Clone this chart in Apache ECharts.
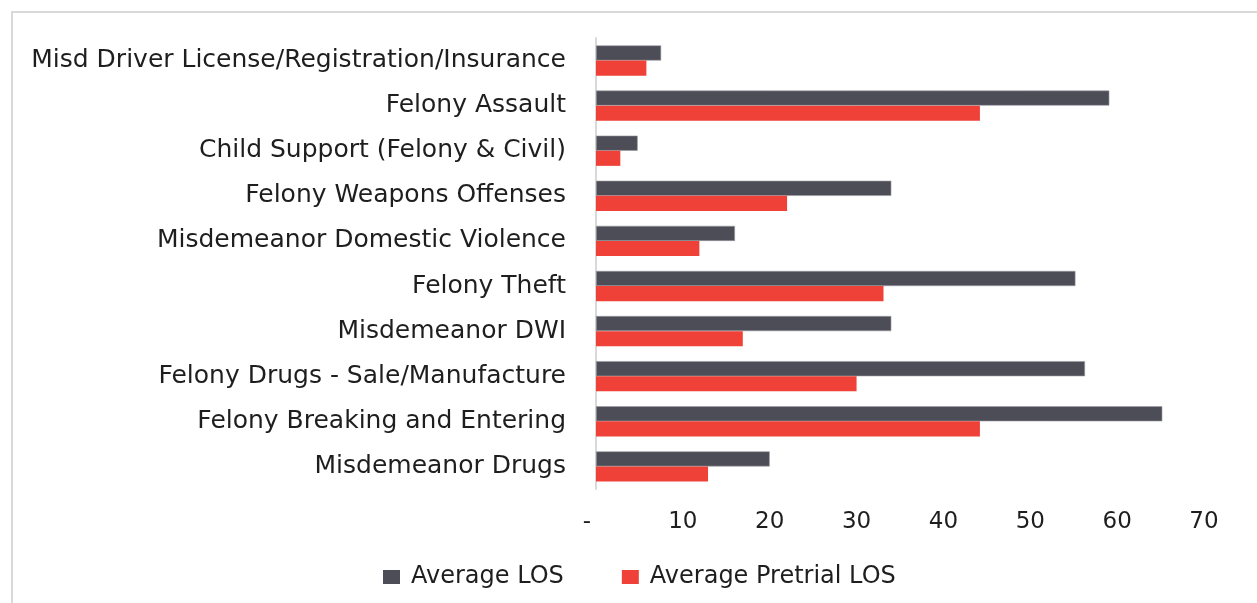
<!DOCTYPE html>
<html>
<head>
<meta charset="utf-8">
<script src="https://cdn.jsdelivr.net/npm/echarts@6/dist/echarts.min.js"></script>
<style>
  html, body { margin: 0; padding: 0; background: #fff; }
  #chart { width: 1257px; height: 603px; }
</style>
</head>
<body>
<div id="chart"></div>
<script>
// categories, top to bottom
const categories = [
  'Misd Driver License/Registration/Insurance',
  'Felony Assault',
  'Child Support (Felony & Civil)',
  'Felony Weapons Offenses',
  'Misdemeanor Domestic Violence',
  'Felony Theft',
  'Misdemeanor DWI',
  'Felony Drugs - Sale/Manufacture',
  'Felony Breaking and Entering',
  'Misdemeanor Drugs'
]
const avgLos = [7.5, 59.1, 4.8, 34.0, 16.0, 55.2, 34.0, 56.3, 65.2, 20.0]
const avgPretrialLos = [5.8, 44.2, 2.8, 22.0, 11.9, 33.1, 16.9, 30.0, 44.2, 12.9]
const seriesNames = ['Average LOS', 'Average Pretrial LOS']

const font = 'DejaVu Sans'
const textColor = '#1e1e1e'

const chart = echarts.init(document.getElementById('chart'))

chart.setOption({
  animation: false,
  graphic: [{
    type: 'rect',
    shape: { x: 12, y: 12, width: 1250, height: 600 },
    style: { fill: 'none', stroke: '#d9d9d9', lineWidth: 2 },
    silent: true
  }],
  grid: { left: 596, right: 53, top: 38, bottom: 114 },
  legend: {
    data: seriesNames,
    left: 378,
    top: 560,
    itemWidth: 17,
    itemHeight: 14,
    itemGap: 58,
    icon: 'rect',
    itemStyle: { borderWidth: 0 },
    textStyle: { fontFamily: font, fontSize: 24, color: textColor, padding: [0, 0, 0, 6] }
  },
  xAxis: {
    type: 'value',
    min: 0,
    max: 70,
    interval: 10,
    axisLine: { show: false },
    axisTick: { show: false },
    splitLine: { show: false },
    axisLabel: {
      margin: 22,
      fontFamily: font,
      fontSize: 23,
      color: textColor,
      formatter: v => v === 0 ? '{z|-}' : String(v),
      rich: { z: { fontFamily: font, fontSize: 23, color: textColor, padding: [0, 18, 0, 0] } }
    }
  },
  yAxis: {
    type: 'category',
    data: categories,
    inverse: true,
    axisLine: { show: true, lineStyle: { color: '#d9d9d9', width: 2 } },
    axisTick: { show: false },
    axisLabel: { margin: 30, fontFamily: font, fontSize: 25, color: textColor }
  },
  series: [
    {
      name: seriesNames[0],
      type: 'bar',
      data: avgLos,
      barGap: '0%',
      barCategoryGap: '33%',
      itemStyle: { color: '#4d4d57', borderColor: '#9b9ba2', borderWidth: 0.6 }
    },
    {
      name: seriesNames[1],
      type: 'bar',
      data: avgPretrialLos,
      itemStyle: { color: '#ef4137' }
    }
  ]
})
</script>
</body>
</html>
